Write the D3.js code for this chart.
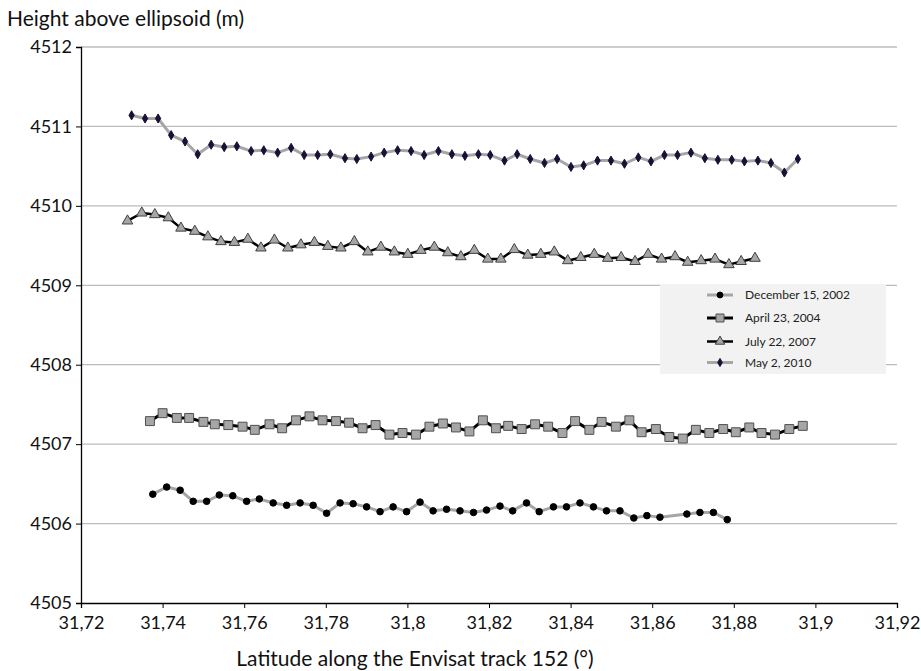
<!DOCTYPE html>
<html><head><meta charset="utf-8">
<script src="https://cdn.jsdelivr.net/npm/d3@7"></script>
<style>body{margin:0;background:#fff;font-family:Lato,"Open Sans",sans-serif;}</style>
</head><body>
<svg id="c" width="921" height="671"></svg>
<script>
const seriesNames = ["December 15, 2002","April 23, 2004","July 22, 2007","May 2, 2010"];
const xTicks = [31.72,31.74,31.76,31.78,31.8,31.82,31.84,31.86,31.88,31.9,31.92];
const yTicks = [4505,4506,4507,4508,4509,4510,4511,4512];

const latDec2002 = [31.7376,31.7410,31.7443,31.7475,31.7508,31.7539,31.7572,31.7606,31.7637,31.7671,31.7704,31.7737,31.7769,31.7802,31.7835,31.7867,31.7900,31.7933,31.7965,31.7998,31.8031,31.8063,31.8096,31.8129,31.8162,31.8194,31.8227,31.8258,31.8292,31.8323,31.8358,31.8390,31.8423,31.8456,31.8488,31.8521,31.8555,31.8587,31.8619,31.8685,31.8717,31.8750,31.8784];
const hDec2002 = [4506.37,4506.46,4506.42,4506.28,4506.28,4506.36,4506.35,4506.28,4506.31,4506.26,4506.23,4506.26,4506.23,4506.13,4506.26,4506.25,4506.21,4506.15,4506.21,4506.15,4506.27,4506.16,4506.18,4506.16,4506.14,4506.17,4506.22,4506.16,4506.26,4506.15,4506.21,4506.21,4506.26,4506.21,4506.16,4506.16,4506.07,4506.10,4506.08,4506.12,4506.14,4506.14,4506.05];

const latApr2004 = [31.7369,31.7400,31.7435,31.7465,31.7500,31.7528,31.7561,31.7596,31.7626,31.7662,31.7693,31.7727,31.7760,31.7792,31.7825,31.7857,31.7890,31.7922,31.7956,31.7988,31.8021,31.8054,31.8087,31.8119,31.8152,31.8185,31.8217,31.8247,31.8280,31.8313,31.8345,31.8380,31.8411,31.8446,31.8476,31.8511,31.8544,31.8574,31.8609,31.8642,31.8675,31.8707,31.8740,31.8774,31.8805,31.8838,31.8868,31.8901,31.8936,31.8969];
const hApr2004 = [4507.29,4507.39,4507.33,4507.33,4507.28,4507.25,4507.24,4507.22,4507.18,4507.25,4507.20,4507.30,4507.35,4507.30,4507.29,4507.27,4507.20,4507.24,4507.12,4507.14,4507.12,4507.22,4507.26,4507.21,4507.16,4507.30,4507.20,4507.23,4507.19,4507.25,4507.22,4507.14,4507.29,4507.18,4507.28,4507.22,4507.30,4507.15,4507.19,4507.09,4507.07,4507.18,4507.14,4507.19,4507.15,4507.21,4507.14,4507.12,4507.19,4507.23];

const latJul2007 = [31.7314,31.7349,31.7381,31.7414,31.7445,31.7479,31.7511,31.7543,31.7576,31.7609,31.7641,31.7674,31.7707,31.7739,31.7772,31.7805,31.7837,31.7870,31.7903,31.7935,31.7968,31.8001,31.8033,31.8066,31.8099,31.8131,31.8164,31.8197,31.8229,31.8262,31.8295,31.8327,31.8360,31.8393,31.8425,31.8458,31.8491,31.8524,31.8558,31.8590,31.8623,31.8656,31.8687,31.8720,31.8754,31.8788,31.8818,31.8852];
const hJul2007 = [4509.81,4509.91,4509.89,4509.85,4509.72,4509.68,4509.61,4509.55,4509.54,4509.58,4509.47,4509.57,4509.47,4509.51,4509.54,4509.49,4509.47,4509.55,4509.42,4509.48,4509.42,4509.39,4509.44,4509.48,4509.41,4509.36,4509.44,4509.33,4509.33,4509.45,4509.38,4509.39,4509.42,4509.31,4509.35,4509.39,4509.34,4509.35,4509.30,4509.39,4509.33,4509.36,4509.29,4509.31,4509.33,4509.26,4509.30,4509.34];

const latMay2010 = [31.7324,31.7357,31.7389,31.7421,31.7455,31.7486,31.7519,31.7551,31.7582,31.7617,31.7648,31.7682,31.7715,31.7747,31.7780,31.7811,31.7847,31.7876,31.7911,31.7943,31.7976,31.8009,31.8041,31.8076,31.8109,31.8141,31.8174,31.8203,31.8238,31.8269,31.8301,31.8336,31.8367,31.8401,31.8432,31.8466,31.8499,31.8532,31.8566,31.8597,31.8630,31.8662,31.8695,31.8729,31.8761,31.8795,31.8826,31.8859,31.8891,31.8924,31.8957];
const hMay2010 = [4511.14,4511.10,4511.10,4510.89,4510.81,4510.65,4510.77,4510.74,4510.75,4510.69,4510.70,4510.67,4510.73,4510.64,4510.64,4510.65,4510.60,4510.59,4510.62,4510.67,4510.70,4510.69,4510.64,4510.69,4510.65,4510.63,4510.65,4510.64,4510.57,4510.65,4510.59,4510.54,4510.59,4510.49,4510.51,4510.57,4510.57,4510.53,4510.61,4510.56,4510.64,4510.64,4510.67,4510.60,4510.58,4510.58,4510.56,4510.57,4510.54,4510.42,4510.59];

const svg = d3.select("#c");
const L = 81, R = 897, T = 47, B = 603;
const x = d3.scaleLinear().domain([31.72, 31.92]).range([L, R]);
const y = d3.scaleLinear().domain([4505, 4512]).range([B, T]);
const font = "Lato, 'Open Sans', sans-serif";

// gridlines
svg.append("g").selectAll("line").data(yTicks.filter(v => v > 4505)).join("line")
  .attr("x1", L).attr("x2", R).attr("y1", d => y(d)).attr("y2", d => y(d))
  .attr("stroke", "#bcbcbc").attr("stroke-width", 1.3);

// axes
const yAxis = d3.axisLeft(y).tickValues(yTicks).tickFormat(d3.format("d")).tickSize(5).tickPadding(4);
const gy = svg.append("g").attr("transform", `translate(${L},0)`).call(yAxis);
gy.select(".domain").attr("stroke", "#000").attr("stroke-width", 1.3);
gy.selectAll(".tick line").attr("stroke", "#000");
gy.selectAll("text").attr("font-family", font).attr("font-size", 18).attr("fill", "#111");

const xAxis = d3.axisBottom(x).tickValues(xTicks).tickFormat(d => String(d).replace(".", ",")).tickSize(5).tickPadding(8);
const gx = svg.append("g").attr("transform", `translate(0,${B})`).call(xAxis);
gx.select(".domain").attr("stroke", "#000").attr("stroke-width", 1.3);
gx.selectAll(".tick line").attr("stroke", "#000");
gx.selectAll("text").attr("font-family", font).attr("font-size", 18).attr("fill", "#111");

// titles
svg.append("text").attr("x", 7).attr("y", 26).attr("font-family", font).attr("font-size", 21)
  .attr("fill", "#111").text("Height above ellipsoid (m)");
svg.append("text").attr("x", 415).attr("y", 666).attr("text-anchor", "middle")
  .attr("font-family", font).attr("font-size", 21).attr("fill", "#111")
  .text("Latitude along the Envisat track 152 (°)");

// series
const series = [
  {name: seriesNames[0], lat: latDec2002, h: hDec2002, line: "#a6a6a6", lw: 3, sym: d3.symbolCircle, size: 34, fill: "#000", stroke: "#000"},
  {name: seriesNames[1], lat: latApr2004, h: hApr2004, line: "#000", lw: 3, sym: d3.symbolSquare, size: 80, fill: "#a6a6a6", stroke: "#505050"},
  {name: seriesNames[2], lat: latJul2007, h: hJul2007, line: "#000", lw: 2.5, sym: d3.symbolTriangle, size: 48, fill: "#a6a6a6", stroke: "#404040"},
  {name: seriesNames[3], lat: latMay2010, h: hMay2010, line: "#a6a6a6", lw: 3, sym: d3.symbolDiamond, size: 24, fill: "#1a0f35", stroke: "#1a0f35"}
];
const line = d3.line().x(d => x(d[0])).y(d => y(d[1]));
series.forEach(s => {
  const pts = s.lat.map((v, i) => [v, s.h[i]]);
  const g = svg.append("g");
  g.append("path").datum(pts).attr("d", line).attr("fill", "none")
    .attr("stroke", s.line).attr("stroke-width", s.lw).attr("stroke-linejoin", "round");
  g.selectAll("path.m").data(pts).join("path").attr("class", "m")
    .attr("transform", d => `translate(${x(d[0])},${y(d[1])})`)
    .attr("d", d3.symbol(s.sym, s.size)).attr("fill", s.fill).attr("stroke", s.stroke).attr("stroke-width", 1);
});

// legend
const lg = svg.append("g").attr("transform", "translate(660,284)");
lg.append("rect").attr("width", 226).attr("height", 90).attr("fill", "#f2f2f2");
const rowY = [11, 34, 57.5, 78.5];
series.forEach((s, i) => {
  const r = lg.append("g").attr("transform", `translate(0,${rowY[i]})`);
  r.append("line").attr("x1", 47).attr("x2", 73).attr("stroke", s.line).attr("stroke-width", s.lw);
  r.append("path").attr("transform", "translate(60,0)").attr("d", d3.symbol(s.sym, s.size * 0.8))
    .attr("fill", s.fill).attr("stroke", s.stroke);
  r.append("text").attr("x", 85).attr("y", 4).attr("font-family", font).attr("font-size", 12)
    .attr("fill", "#222").text(s.name);
});
</script>
</body></html>
